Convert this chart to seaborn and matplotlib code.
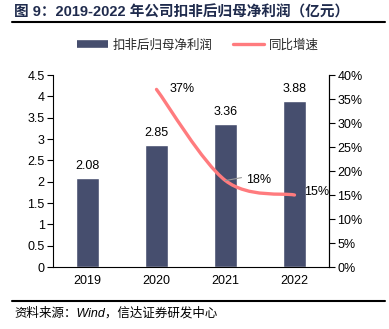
import numpy as np
import pandas as pd
import matplotlib
matplotlib.use("Agg")
import matplotlib.pyplot as plt
import seaborn as sns
from matplotlib.path import Path
from matplotlib.patches import PathPatch
from matplotlib.lines import Line2D

# ---- data ----
years = ["2019", "2020", "2021", "2022"]
profit = [2.08, 2.85, 3.36, 3.88]          # 扣非后归母净利润（亿元）
growth_years = ["2020", "2021", "2022"]
growth = [37, 18, 15]                      # 同比增速（%）
left_ticks = [0, 0.5, 1, 1.5, 2, 2.5, 3, 3.5, 4, 4.5]
left_tick_labels = ["0", "0.5", "1", "1.5", "2", "2.5", "3", "3.5", "4", "4.5"]
right_ticks = [0, 5, 10, 15, 20, 25, 30, 35, 40]
right_tick_labels = [f"{t}%" for t in right_ticks]

title = "图 9：2019-2022 年公司扣非后归母净利润（亿元）"
source = "资料来源：Wind，信达证券研发中心"
bar_name = "扣非后归母净利润"
line_name = "同比增速"

BAR_COLOR = "#464E6E"
LINE_COLOR = "#FF7B7E"
TITLE_COLOR = "#1F2B4D"

sns.set_theme(style="white")
plt.rcParams["font.family"] = ["Liberation Sans", "Noto Sans CJK SC"]
plt.rcParams["axes.unicode_minus"] = False

fig = plt.figure(figsize=(3.89, 3.29), dpi=100)
ax = fig.add_axes([53 / 389, 1 - 267 / 329, 276 / 389, 192 / 329])

df = pd.DataFrame({"year": years, "profit": profit})
sns.barplot(data=df, x="year", y="profit", color=BAR_COLOR, width=0.32,
            saturation=1, ax=ax)

ax.set_xlim(-0.5, 3.5)
ax.set_ylim(0, 4.5)
ax.set_yticks(left_ticks)
ax.set_yticklabels(left_tick_labels, fontsize=9)
ax.set_xlabel("")
ax.set_ylabel("")
ax.tick_params(axis="x", length=0, labelsize=9, pad=6, colors="black")
ax.set_xticks(np.arange(-0.5, 4.0, 1.0), minor=True)
ax.tick_params(axis="x", which="minor", length=4, width=0.8, direction="out",
               color="black")
ax.tick_params(axis="y", length=4, width=0.8, direction="out", colors="black",
               pad=2)
for side in ["left", "bottom", "right"]:
    ax.spines[side].set_visible(True)
    ax.spines[side].set_color("black")
    ax.spines[side].set_linewidth(0.8)
ax.spines["top"].set_visible(False)

for i, v in enumerate(profit):
    ax.annotate(f"{v:.2f}", (i, v), xytext=(0, 12), textcoords="offset pixels",
                ha="center", va="center", fontsize=9, color="black")

# ---- growth line on secondary axis ----
ax2 = ax.twinx()
ax2.set_ylim(0, 40)
ax2.set_yticks(right_ticks)
ax2.set_yticklabels(right_tick_labels, fontsize=9)
ax2.tick_params(axis="y", length=4, width=0.8, direction="out", colors="black",
                pad=2)
for side in ["left", "bottom", "top"]:
    ax2.spines[side].set_visible(False)
ax2.spines["right"].set_color("black")
ax2.spines["right"].set_linewidth(0.8)
ax2.grid(False)
ax.grid(False)

gx = [years.index(y) for y in growth_years]
pts = np.column_stack([gx, growth]).astype(float)

# smoothed curve through the points (Catmull-Rom as cubic Bezier segments)
verts = [tuple(pts[0])]
codes = [Path.MOVETO]
n = len(pts)
for k in range(n - 1):
    p0 = pts[max(k - 1, 0)]
    p1 = pts[k]
    p2 = pts[k + 1]
    p3 = pts[min(k + 2, n - 1)]
    c1 = p1 + (p2 - p0) / 6.0
    c2 = p2 - (p3 - p1) / 6.0
    verts += [tuple(c1), tuple(c2), tuple(p2)]
    codes += [Path.CURVE4] * 3
ax2.add_patch(PathPatch(Path(verts, codes), fill=False, edgecolor=LINE_COLOR,
                        linewidth=2.4, capstyle="round", joinstyle="round",
                        zorder=3))

label_offsets = [(26, 0), (33, 1), (22, 3)]
for (x, v), (dx, dy) in zip(zip(gx, growth), label_offsets):
    ax2.annotate(f"{v}%", (x, v), xytext=(dx, dy), textcoords="offset pixels",
                 ha="center", va="center", fontsize=9, color="black", zorder=4)
# leader line for the 2021 label
x21 = gx[growth_years.index("2021")]
ax2.annotate("", (x21, growth[1]), xytext=(16, 3), textcoords="offset pixels",
             arrowprops=dict(arrowstyle="-", color="#999999", lw=0.8,
                             shrinkA=0, shrinkB=0))

# ---- legend ----
handles = [Line2D([0], [0], color=BAR_COLOR, lw=5.5, solid_capstyle="butt"),
           Line2D([0], [0], color=LINE_COLOR, lw=2.4, solid_capstyle="round")]
fig.legend(handles, [bar_name, line_name], loc="center",
           bbox_to_anchor=(0.509, 0.863), ncol=2, frameon=False, fontsize=9,
           handlelength=2.5, handletextpad=0.4, columnspacing=1.6)

# ---- title, rules and source ----
fig.text(14 / 389, 1 - 12 / 329, title, fontsize=10.5, fontweight="bold",
         color=TITLE_COLOR, ha="left", va="center")
fig.add_artist(Line2D([12 / 389, 385 / 389], [1 - 21.5 / 329, 1 - 21.5 / 329],
                      color="black", lw=1.5))
fig.add_artist(Line2D([12 / 389, 385 / 389], [1 - 301 / 329, 1 - 301 / 329],
                      color="black", lw=1.5))
fig.text(14 / 389, 1 - 313 / 329, source, fontsize=9, style="italic",
         color="black", ha="left", va="center")

fig.savefig("out.png", dpi=100)
